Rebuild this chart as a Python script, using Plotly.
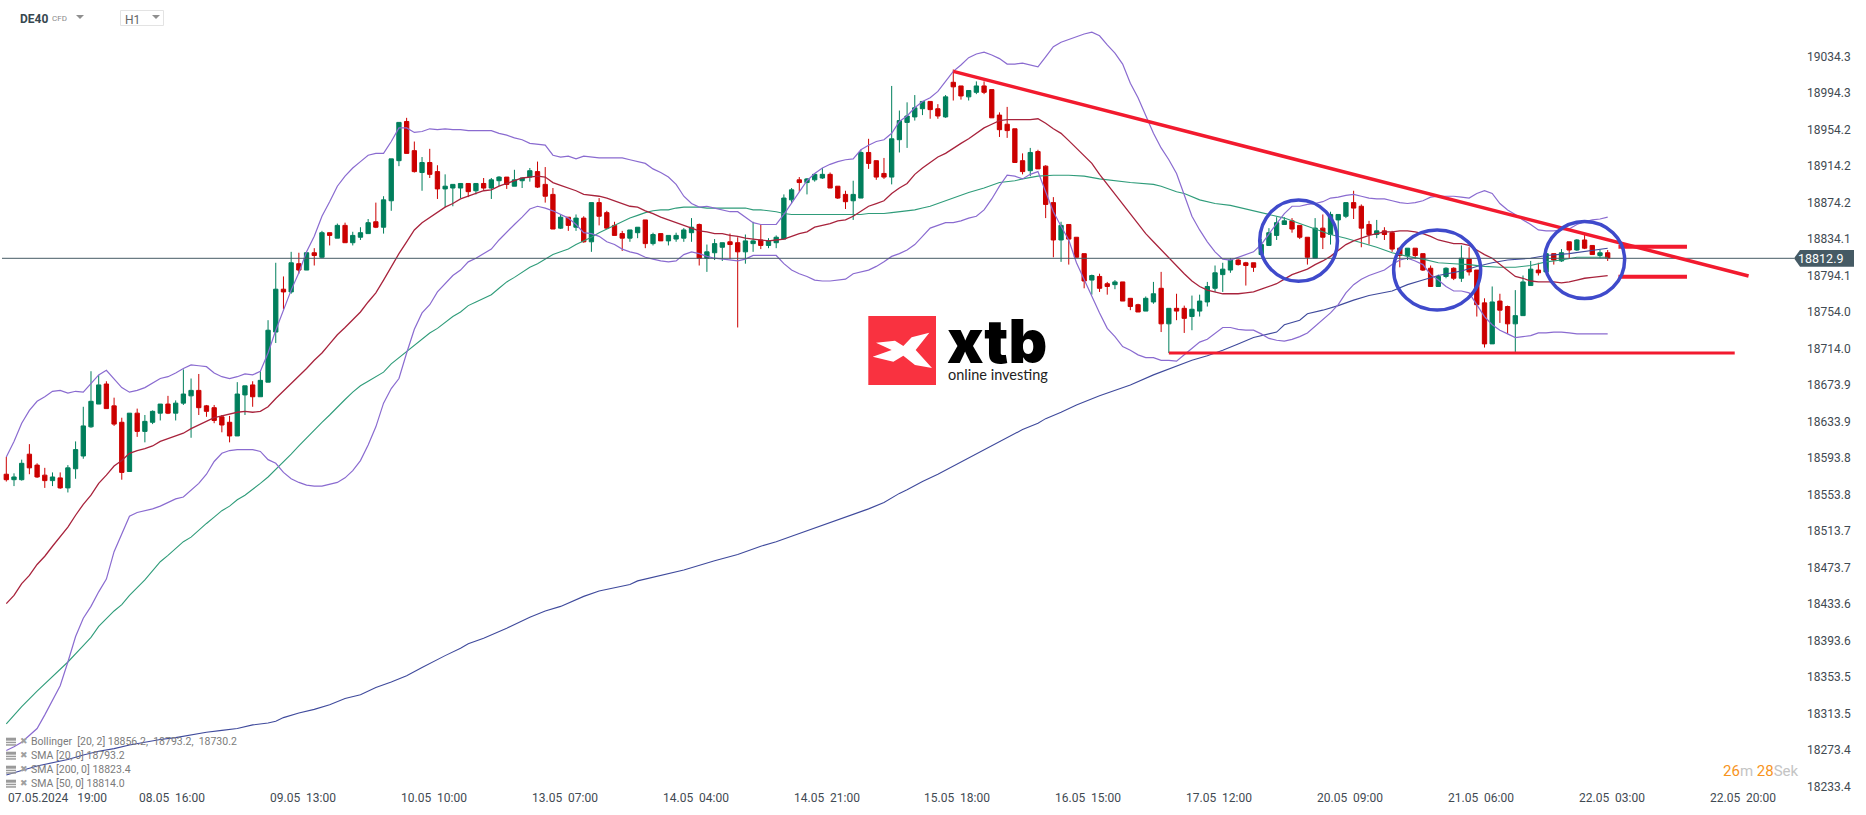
import plotly.graph_objects as go

open_ = [18576,18570,18570,18598,18586,18575,18569,18572,18561,18582,
18596,18628,18653,18675,18651,18633,18579,18643,18623,18633,
18643,18653,18643,18654,18662,18668,18651,18649,18639,18633,
18618,18663,18674,18661,18677,18732,18779,18776,18807,18800,
18819,18814,18841,18835,18849,18830,18836,18840,18853,18847,
18876,18920,18963,18931,18907,18918,18908,18889,18890,18890,
18895,18887,18895,18890,18898,18902,18892,18898,18902,18908,
18894,18883,18846,18858,18847,18857,18831,18874,18863,18849,
18840,18835,18841,18855,18829,18840,18832,18834,18835,18841,
18850,18813,18819,18825,18831,18830,18820,18829,18833,18827,
18830,18834,18877,18899,18896,18899,18901,18905,18892,18883,
18876,18879,18929,18920,18906,18902,18943,18962,18968,18977,
18985,18977,18968,19006,19002,18990,18995,19002,18998,18970,
18960,18955,18920,18909,18930,18914,18874,18833,18850,18836,
18818,18789,18793,18785,18784,18787,18769,18762,18755,18765,
18780,18741,18758,18758,18749,18755,18765,18780,18795,18800,
18811,18808,18808,18817,18827,18838,18850,18854,18849,18836,
18813,18846,18839,18855,18859,18874,18870,18850,18839,18843,
18841,18824,18816,18824,18818,18802,18782,18793,18802,18791,
18812,18800,18764,18719,18766,18760,18741,18750,18783,18800,
18798,18818,18810,18831,18822,18833,18827,18816,18819]

high = [18595,18577,18592,18609,18588,18583,18578,18578,18586,18612,
18650,18689,18685,18678,18660,18638,18643,18648,18641,18646,
18653,18662,18657,18691,18681,18686,18652,18652,18641,18640,
18677,18673,18678,18689,18745,18808,18793,18820,18819,18819,
18824,18843,18841,18851,18852,18842,18847,18856,18874,18881,
18922,18962,18967,18941,18924,18933,18915,18905,18894,18895,
18895,18895,18901,18901,18903,18902,18910,18901,18912,18919,
18913,18890,18861,18858,18861,18859,18874,18879,18865,18853,
18843,18844,18847,18855,18841,18840,18838,18841,18846,18857,
18851,18828,18834,18830,18840,18836,18839,18853,18850,18835,
18838,18883,18890,18902,18901,18906,18912,18907,18892,18887,
18898,18932,18944,18920,18923,19002,18975,18984,18992,18985,
18985,18982,18992,19020,19002,18997,19007,19007,18998,18973,
18979,18955,18928,18934,18932,18915,18880,18853,18850,18836,
18818,18795,18796,18787,18789,18787,18769,18763,18771,18787,
18798,18758,18774,18761,18772,18773,18787,18805,18808,18813,
18812,18809,18808,18834,18846,18858,18858,18857,18849,18836,
18857,18861,18864,18861,18874,18887,18872,18854,18855,18847,
18843,18824,18824,18824,18818,18805,18795,18803,18803,18827,
18825,18800,18769,18782,18774,18761,18778,18794,18810,18808,
18818,18818,18823,18831,18834,18839,18827,18822,18822]

low = [18568,18563,18569,18576,18572,18561,18563,18560,18556,18571,
18593,18627,18653,18648,18629,18570,18579,18617,18611,18631,
18635,18642,18635,18652,18616,18641,18639,18632,18622,18611,
18618,18641,18650,18661,18677,18720,18757,18774,18796,18800,
18805,18813,18827,18835,18830,18827,18833,18840,18846,18840,
18865,18914,18928,18907,18887,18901,18878,18869,18870,18879,
18880,18883,18888,18878,18892,18889,18892,18890,18897,18890,
18874,18845,18845,18843,18843,18830,18820,18849,18845,18838,
18821,18831,18835,18824,18827,18832,18827,18831,18831,18831,
18805,18798,18811,18810,18812,18737,18807,18820,18823,18824,
18824,18834,18873,18886,18883,18897,18900,18890,18878,18867,
18855,18879,18911,18899,18900,18894,18929,18934,18964,18970,
18966,18966,18967,18986,18987,18986,18993,18993,18967,18946,
18945,18918,18905,18903,18911,18857,18814,18809,18806,18814,
18780,18773,18776,18773,18779,18766,18756,18754,18755,18763,
18732,18709,18745,18731,18734,18749,18760,18776,18776,18797,
18805,18783,18798,18817,18827,18833,18850,18841,18834,18806,
18813,18823,18828,18837,18857,18856,18825,18828,18835,18833,
18820,18803,18811,18812,18799,18782,18782,18791,18789,18787,
18794,18749,18715,18719,18742,18730,18710,18750,18783,18794,
18798,18806,18809,18813,18821,18823,18817,18813,18810]

close = [18570,18573,18588,18583,18573,18569,18573,18561,18583,18603,
18629,18656,18674,18648,18631,18578,18643,18623,18634,18645,
18653,18643,18654,18664,18668,18649,18645,18635,18630,18618,
18664,18673,18661,18679,18734,18779,18776,18808,18800,18819,
18816,18841,18838,18849,18830,18838,18841,18852,18847,18877,
18922,18962,18928,18908,18918,18905,18889,18892,18894,18895,
18886,18895,18890,18899,18902,18894,18899,18901,18909,18891,
18881,18845,18858,18849,18857,18831,18874,18859,18846,18838,
18835,18844,18847,18829,18839,18832,18838,18838,18844,18847,
18813,18820,18829,18830,18828,18820,18832,18832,18827,18832,
18836,18879,18888,18896,18900,18905,18905,18890,18879,18875,
18883,18929,18917,18902,18902,18944,18964,18969,18978,18985,
18976,18969,18990,19001,18991,18997,19002,18995,18967,18954,
18953,18918,18908,18929,18911,18872,18833,18849,18834,18814,
18788,18794,18780,18782,18787,18766,18760,18754,18769,18774,
18741,18758,18755,18747,18757,18766,18782,18797,18801,18811,
18806,18805,18803,18828,18841,18852,18854,18845,18836,18814,
18846,18836,18861,18861,18874,18868,18846,18839,18843,18839,
18823,18816,18824,18816,18800,18782,18793,18802,18791,18813,
18798,18762,18719,18765,18756,18741,18750,18787,18801,18797,
18818,18811,18819,18822,18833,18824,18817,18819,18813]

bb_upper = [18595,18612,18632,18646,18656,18661,18667,18668,18665,18667,
18666,18676,18685,18690,18681,18671,18666,18668,18671,18676,
18681,18683,18687,18692,18696,18695,18694,18687,18683,18681,
18683,18686,18685,18689,18709,18734,18756,18778,18797,18820,
18837,18859,18875,18892,18903,18912,18919,18926,18928,18928,
18941,18956,18956,18951,18952,18955,18954,18955,18954,18954,
18953,18953,18953,18953,18950,18948,18945,18943,18939,18938,
18937,18926,18924,18925,18922,18925,18924,18923,18923,18923,
18923,18921,18919,18917,18911,18907,18902,18894,18881,18873,
18869,18870,18868,18866,18864,18864,18858,18852,18850,18850,
18850,18861,18873,18886,18898,18906,18912,18916,18919,18921,
18922,18932,18937,18941,18943,18950,18963,18969,18978,18985,
18989,18996,19007,19018,19025,19033,19037,19039,19036,19032,
19026,19026,19027,19025,19023,19034,19045,19050,19053,19056,
19059,19061,19057,19047,19038,19026,19005,18989,18970,18950,
18934,18921,18906,18883,18859,18844,18831,18820,18812,18811,
18814,18817,18820,18828,18840,18851,18862,18870,18870,18872,
18873,18875,18879,18880,18882,18883,18881,18879,18878,18878,
18876,18874,18873,18874,18876,18880,18881,18881,18881,18880,
18879,18884,18887,18884,18873,18866,18861,18855,18850,18844,
18843,18843,18844,18845,18850,18853,18855,18856,18858]

bb_lower = [18273,18277,18282,18290,18297,18312,18328,18344,18370,18398,
18418,18431,18447,18461,18491,18511,18530,18534,18536,18538,
18541,18545,18549,18551,18558,18566,18576,18590,18599,18602,
18603,18603,18603,18601,18592,18588,18578,18571,18567,18564,
18563,18563,18565,18567,18572,18580,18591,18608,18628,18654,
18670,18681,18709,18735,18753,18762,18776,18785,18794,18800,
18809,18813,18818,18823,18833,18842,18850,18858,18867,18870,
18868,18865,18861,18857,18850,18841,18840,18837,18831,18828,
18823,18820,18818,18814,18812,18810,18809,18810,18817,18820,
18818,18815,18813,18812,18811,18810,18812,18816,18816,18816,
18816,18807,18800,18796,18793,18789,18788,18788,18789,18790,
18796,18798,18800,18804,18809,18815,18818,18822,18828,18837,
18846,18849,18852,18852,18854,18857,18859,18866,18878,18892,
18904,18903,18900,18905,18908,18886,18864,18848,18833,18808,
18789,18771,18753,18736,18727,18716,18712,18707,18704,18704,
18701,18701,18700,18707,18714,18721,18724,18731,18737,18737,
18735,18734,18734,18730,18725,18723,18722,18724,18727,18731,
18738,18745,18753,18762,18775,18784,18790,18794,18797,18800,
18806,18811,18813,18810,18806,18795,18789,18782,18777,18777,
18775,18762,18749,18740,18734,18730,18726,18727,18728,18731,
18731,18732,18732,18731,18730,18730,18730,18730,18730]

sma20 = [18434,18443,18456,18465,18477,18486,18497,18507,18518,18531,
18543,18553,18566,18575,18585,18591,18599,18602,18604,18607,
18612,18615,18618,18621,18626,18630,18634,18638,18640,18642,
18644,18645,18644,18645,18650,18659,18667,18675,18683,18692,
18701,18709,18719,18729,18737,18745,18754,18765,18775,18789,
18804,18818,18831,18844,18852,18858,18864,18869,18873,18878,
18881,18884,18887,18888,18892,18895,18898,18901,18902,18903,
18902,18896,18893,18890,18887,18883,18882,18881,18879,18876,
18873,18870,18869,18865,18862,18858,18855,18852,18849,18846,
18843,18842,18840,18840,18838,18837,18835,18834,18833,18832,
18833,18834,18837,18840,18842,18847,18849,18851,18854,18855,
18859,18865,18870,18873,18876,18884,18890,18895,18905,18912,
18918,18924,18928,18934,18939,18944,18950,18956,18960,18964,
18965,18965,18965,18965,18966,18961,18955,18950,18942,18934,
18925,18917,18905,18894,18884,18873,18861,18850,18840,18831,
18822,18814,18805,18796,18788,18782,18778,18776,18774,18774,
18774,18775,18776,18779,18782,18785,18790,18795,18798,18801,
18806,18810,18815,18822,18828,18832,18835,18838,18840,18842,
18842,18843,18843,18842,18840,18837,18833,18831,18829,18829,
18827,18822,18817,18813,18806,18799,18793,18791,18788,18787,
18787,18787,18786,18787,18789,18791,18792,18793,18794]

sma50_x = [0,2,4,6,8,10,11,12,13,14,15,16,18,19,20,21,22,23,24,25,26,27,28,29,30,31,32,33,34,35,36,37,38,39,40,41,42,43,44,45,46,47,49,50,51,52,53,54,55,56,57,58,59,60,
61,63,64,65,66,67,68,69,70,71,72,73,74,75,76,77,78,79,80,81,82,83,84,85,86,87,88,90,91,92,94,96,97,98,99,100,101,102,104,108,110,111,112,114,115,117,118,119,120,121,
123,125,127,128,129,131,132,134,136,138,140,142,144,146,149,150,152,153,155,157,159,161,163,
164,166,168,170,172,174,176,178,180,182,184,186,188,190,192,194,196,198,200,202,204,206,208]
sma50 = [18302,18321,18338,18354,18370,18388,18397,18409,18418,18426,18433,18443,18460,18470,18480,18487,18495,18502,18507,18515,18522,18529,18536,18541,18548,18553,18559,18566,18573,18581,18590,18598,18607,18616,18625,18633,18641,18650,18658,18666,18673,18678,18688,18697,18704,18711,18718,18724,18731,18736,18743,18749,18754,18761,
18765,18773,18780,18787,18792,18798,18803,18807,18812,18817,18820,18823,18828,18832,18836,18841,18845,18849,18853,18857,18860,18863,18865,18866,18866,18868,18869,18869,18868,18868,18868,18868,18866,18866,18865,18864,18862,18861,18861,18861,18861,18861,18862,18862,18863,18865,18866,18868,18870,18873,
18879,18885,18890,18893,18896,18898,18900,18903,18904,18904,18903,18900,18898,18896,18894,18892,18886,18884,18877,18873,18871,18867,18863,
18861,18857,18851,18845,18839,18835,18830,18825,18819,18815,18812,18808,18807,18806,18804,18803,18803,18805,18809,18811,18814,18814,18814]

sma200_x = [0,4,8,10,12,14,16,18,20,22,24,26,28,30,32,34,35,36,38,40,42,44,46,48,50,52,54,56,57,59,60,
62,65,68,70,72,75,77,81,82,85,88,92,95,98,100,102,104,107,109,112,114,116,117,119,121,
132,134,135,137,139,142,146,149,152,154,156,158,160,162,165,166,168,
169,171,173,175,177,180,182,184,186,189,191,193,195,198,200,203,206,208]
sma200 = [18246,18256,18263,18268,18272,18275,18279,18282,18285,18287,18290,18293,18295,18297,18301,18303,18305,18309,18314,18318,18323,18330,18334,18342,18348,18355,18364,18373,18377,18385,18390,
18396,18407,18419,18426,18431,18442,18448,18455,18459,18465,18471,18481,18488,18497,18502,18508,18514,18523,18529,18538,18545,18555,18559,18568,18576,
18625,18632,18637,18644,18652,18662,18674,18685,18695,18701,18706,18712,18719,18726,18732,18740,18745,
18752,18756,18761,18767,18772,18777,18784,18789,18794,18799,18804,18808,18811,18813,18816,18818,18822,18824]

price_ticks = [19034.3,18994.3,18954.2,18914.2,18874.2,18834.1,18794.1,18754.0,18714.0,18673.9,18633.9,18593.8,18553.8,18513.7,18473.7,18433.6,18393.6,18353.5,18313.5,18273.4,18233.4]
date_labels = ["07.05.2024\u00a0\u00a0\u00a019:00","08.05\u00a0\u00a016:00","09.05\u00a0\u00a013:00","10.05\u00a0\u00a010:00","13.05\u00a0\u00a007:00","14.05\u00a0\u00a004:00","14.05\u00a0\u00a021:00","15.05\u00a0\u00a018:00","16.05\u00a0\u00a015:00","17.05\u00a0\u00a012:00","20.05\u00a0\u00a009:00","21.05\u00a0\u00a006:00","22.05\u00a0\u00a003:00","22.05\u00a0\u00a020:00"]
date_bars = [0,17,34,51,68,85,102,119,136,153,170,187,204,221]
last_price = 18812.9

indicator_legend = ["Bollinger\u00a0\u00a0[20,\u00a02]\u00a018856.2,\u00a0\u00a018793.2,\u00a0\u00a018730.2",
                    "SMA\u00a0[20,\u00a00]\u00a018793.2","SMA\u00a0[200,\u00a00]\u00a018823.4","SMA\u00a0[50,\u00a00]\u00a018814.0"]

# user drawings, in bar index / price
trend_x = [123, 226.3]; trend_y = [19018, 18793.5]
floor_x = [151, 224.5]; floor_y = [18709, 18709]
res_x = [209.4, 218.3]; res_y = 18825.6
sup_y = 18792.7
circles = [(162.8,172.9,18787.6,18876.9),(180.2,191.5,18756.2,18843.9),(199.8,210.2,18768.8,18853.3)]

GREEN="#007f5c"; RED="#cc0000"; PURPLE="#8a6bd0"; MAROON="#a8233c"; TEAL="#2f9c7a"; NAVY="#3f4a9c"; SLATE="#455a64"
W,H=1866,815
L,R,T,B=0,72,20,25
PW=W-L-R; PH=H-T-B
def X(px): return px/PW
def Y(py): return 1-(py-T)/PH

bars=list(range(len(open_)))
fig=go.Figure()
fig.add_trace(go.Candlestick(x=bars,open=open_,high=high,low=low,close=close,whiskerwidth=0,
    increasing=dict(line=dict(color=GREEN,width=1),fillcolor=GREEN),
    decreasing=dict(line=dict(color=RED,width=1),fillcolor=RED),hoverinfo="skip"))
def line(x,y,c,w=1.1):
    fig.add_trace(go.Scatter(x=x,y=y,mode="lines",line=dict(color=c,width=w),hoverinfo="skip"))
line(sma200_x,sma200,NAVY)
line(sma50_x,sma50,TEAL)
line(bars,bb_upper,PURPLE,1.2)
line(bars,bb_lower,PURPLE,1.2)
line(bars,sma20,MAROON,1.3)

shapes=[]
shapes.append(dict(type="line",xref="x",yref="y",x0=-0.56,x1=232.2,y0=last_price,y1=last_price,line=dict(color=SLATE,width=1)))
TR="#f21a2e"
shapes.append(dict(type="line",xref="x",yref="y",x0=trend_x[0],x1=trend_x[1],y0=trend_y[0],y1=trend_y[1],line=dict(color=TR,width=3.5)))
shapes.append(dict(type="line",xref="x",yref="y",x0=floor_x[0],x1=floor_x[1],y0=floor_y[0],y1=floor_y[1],line=dict(color=TR,width=3)))
shapes.append(dict(type="line",xref="x",yref="y",x0=res_x[0],x1=res_x[1],y0=res_y,y1=res_y,line=dict(color=TR,width=4)))
shapes.append(dict(type="line",xref="x",yref="y",x0=res_x[0],x1=res_x[1],y0=sup_y,y1=sup_y,line=dict(color=TR,width=4)))
for c in circles:
    shapes.append(dict(type="circle",xref="x",yref="y",x0=c[0],x1=c[1],y0=c[2],y1=c[3],line=dict(color="#3f4acb",width=3.5)))
# price tag
shapes.append(dict(type="path",xref="paper",yref="paper",fillcolor=SLATE,line=dict(width=0),
    path=f"M {X(1794)} {Y(258.3)} L {X(1800)} {Y(250)} L {X(1854)} {Y(250)} L {X(1854)} {Y(266.7)} L {X(1800)} {Y(266.7)} Z"))
# logo
shapes.append(dict(type="rect",xref="paper",yref="paper",x0=X(868.3),x1=X(936),y0=Y(385),y1=Y(316),fillcolor="#f93240",line=dict(width=0)))
logo=[(78,128),(135,122),(160,138),(185,112),(238,98),(197,150),(246,204),(195,195),(160,167),(130,185),(68,170),(125,150)]
p=" L ".join(f"{X(850+a/3)} {Y(300+b/3)}" for a,b in logo)
shapes.append(dict(type="path",xref="paper",yref="paper",fillcolor="#ffffff",line=dict(width=0),path=f"M {p} Z"))
# dropdown box and arrows
shapes.append(dict(type="rect",xref="paper",yref="paper",x0=X(120.5),x1=X(163.5),y0=Y(25.5),y1=Y(10.5),line=dict(color="#e3e3e3",width=1),fillcolor="#ffffff"))
for cx in (80,156):
    shapes.append(dict(type="path",xref="paper",yref="paper",fillcolor="#8f8f8f",line=dict(width=0),
        path=f"M {X(cx-4)} {Y(15)} L {X(cx+4)} {Y(15)} L {X(cx)} {Y(19)} Z"))
# legend icons
for yy in (741.7,755.7,769.7,783.7):
    for dy,hh in ((-4,3),(0,1.5),(2.5,1.5)):
        shapes.append(dict(type="rect",xref="paper",yref="paper",x0=X(6),x1=X(16),y0=Y(yy+dy+hh),y1=Y(yy+dy),fillcolor="#9a9a9a",line=dict(width=0)))

ann=[]
def text(px,py,s,size=12,color="#3f4a52",anchor="left",family="Roboto",**kw):
    ann.append(dict(xref="paper",yref="paper",x=X(px),y=Y(py),text=s,showarrow=False,xanchor=anchor,yanchor="middle",
        font=dict(family=family,size=size,color=color,**kw),borderpad=0,borderwidth=0))
for b,lab in zip(date_bars,date_labels):
    ann.append(dict(xref="x",yref="paper",x=b,y=Y(798),text=lab,showarrow=False,xanchor="left",yanchor="middle",
        font=dict(family="Roboto",size=12,color="#3f4a52")))
text(1798,258.8,f"{last_price}",12.5,"#ffffff")
text(20,19,"<b>DE40</b>",12,"#37474f")
text(52,19,"CFD",8,"#8a8a8a")
text(125,20,"H1",12,"#666666")
for yy,s in zip((741.7,755.7,769.7,783.7),indicator_legend):
    text(20,yy-1,"\u2716",9,"#a0a0a0",family="DejaVu Sans")
    text(31,yy,s,10.5,"#7b7b7b")
text(1723,770.7,'<span style="color:#f7941d">26</span>m\u00a0<span style="color:#f7941d">28</span>Sek',15,"#c4c4c4")
text(947,341,"xtb",60,"#000000",family="Inter",weight=900)
text(948,374,"online investing",14.5,"#222222",family="Lato")

y0=18812.9-(790-258.3)/0.9115; y1=18812.9+(258.3-20)/0.9115
fig.update_layout(width=W,height=H,margin=dict(l=L,r=R,t=T,b=B),paper_bgcolor="#ffffff",plot_bgcolor="#ffffff",
    showlegend=False,hovermode=False,shapes=shapes,annotations=ann,boxgap=0.2,
    xaxis=dict(range=[-0.818,232.2],showgrid=False,zeroline=False,showticklabels=False,ticks="",rangeslider=dict(visible=False),type="linear"),
    yaxis=dict(range=[y0,y1],side="right",showgrid=False,zeroline=False,showline=False,ticks="",tickmode="array",
        tickvals=price_ticks,ticktext=[f"{v:.1f}" for v in price_ticks],tickfont=dict(family="Roboto",size=12,color="#3f4a52"),ticklabelstandoff=12))
fig.write_html("out.html",post_script="document.body.style.margin='0';",config=dict(displayModeBar=False))
